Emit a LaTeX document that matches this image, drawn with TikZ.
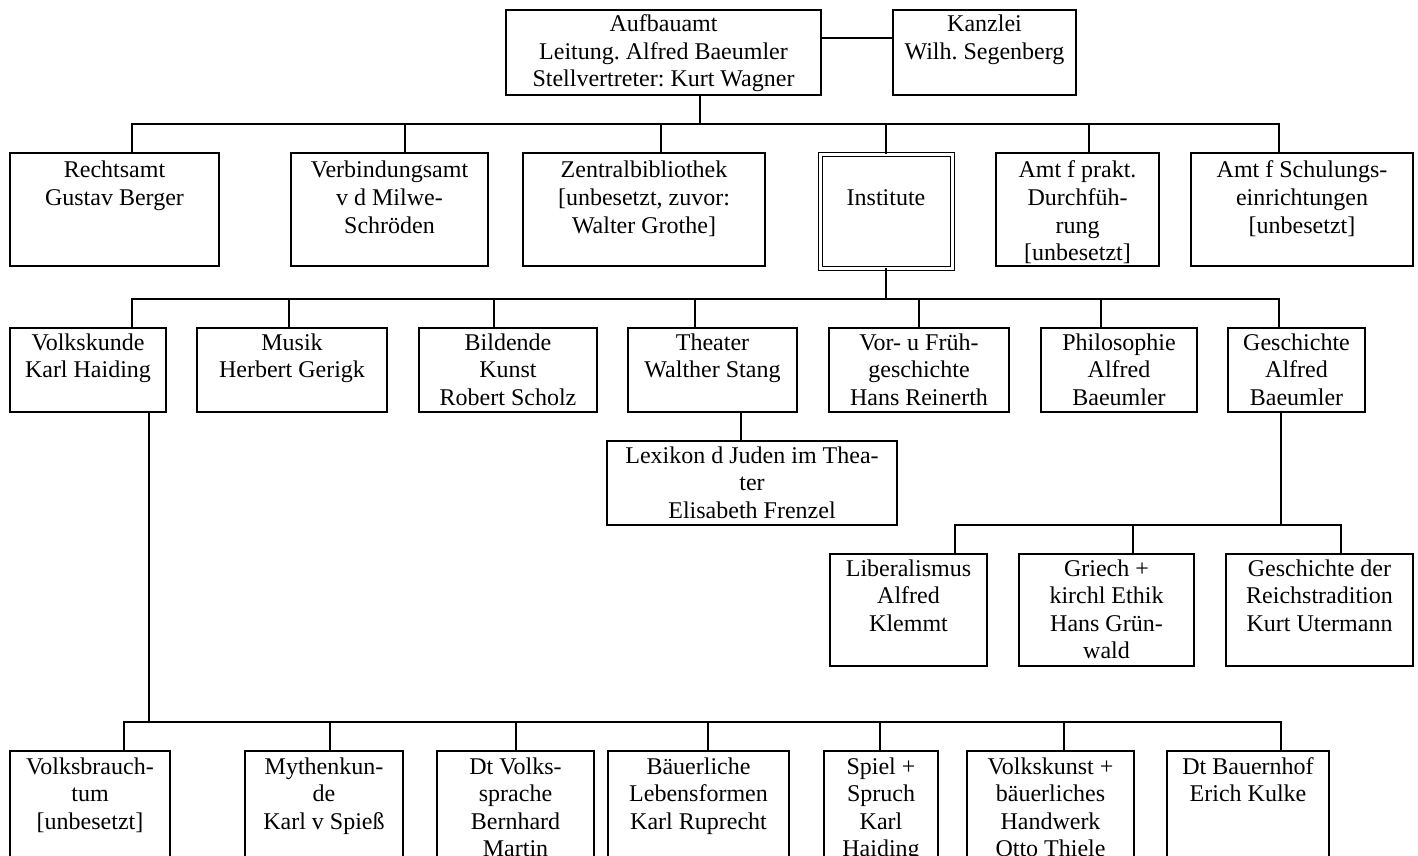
\documentclass[tikz,border=0pt]{standalone}
\usepackage{fontspec}
\setmainfont{Liberation Serif}
\frenchspacing
\newlength\pxu
\setlength\pxu{0.5pt}
\tikzset{
  box/.style={draw, line width=0.7pt, inner sep=0pt, outer sep=0pt, anchor=north west,
    font=\fontsize{12}{13.75}\selectfont},
  dbox/.style={box, line width=0.5pt, double, double distance=1.5pt},
  conn/.style={line width=0.7pt}
}
% [style]{name}{x}{y}{w}{h}{first-baseline offset}{text}
\newcommand\bx[8][box]{%
  \node[#1] (#2) at (#3,#4) {\begin{minipage}[t][#6\pxu][t]{#5\pxu}\centering\frenchspacing
    \vspace*{\dimexpr#7\pxu-0.7\baselineskip\relax}\strut#8\end{minipage}};}
\begin{document}
\begin{tikzpicture}[x=0.5pt,y=-0.5pt]
\useasboundingbox (0,0) rectangle (1418,856);
\clip (0,0) rectangle (1418,856);
% top row
\bx{aufbau}{506}{10}{315}{85}{22}{Aufbauamt\\Leitung. Alfred Baeumler\\Stellvertreter: Kurt Wagner}
\bx{kanzlei}{893}{10}{183}{85}{22}{Kanzlei\\Wilh. Segenberg}
% second row
\bx{rechts}{10}{153}{209}{113}{25}{Rechtsamt\\Gustav Berger}
\bx{verb}{291}{153}{197}{113}{25}{Verbindungsamt\\v d Milwe-\\Schröden}
\bx{zentral}{523}{153}{242}{113}{25}{Zentralbibliothek\\{}[unbesetzt, zuvor:\\Walter Grothe]}
\bx[dbox]{inst}{820}{154}{132}{114}{52}{Institute}
\bx{prakt}{996}{153}{163}{113}{25}{Amt f prakt.\\Durchfüh-\\rung\\{}[unbesetzt]}
\bx{schul}{1191}{153}{222}{113}{25}{Amt f Schulungs-\\einrichtungen\\{}[unbesetzt]}
% third row
\bx{volks}{10}{328}{156}{84}{22}{Volkskunde\\Karl Haiding}
\bx{musik}{197}{328}{190}{84}{22}{Musik\\Herbert Gerigk}
\bx{bild}{419}{328}{178}{84}{22}{Bildende\\Kunst\\Robert Scholz}
\bx{theater}{628}{328}{169}{84}{22}{Theater\\Walther Stang}
\bx{vor}{829}{328}{180}{84}{22}{Vor- u Früh-\\geschichte\\Hans Reinerth}
\bx{philo}{1041}{328}{156}{84}{22}{Philosophie\\Alfred\\Baeumler}
\bx{gesch}{1228}{328}{137}{84}{22}{Geschichte\\Alfred\\Baeumler}
% Lexikon
\bx{lex}{607}{441}{290}{84}{22}{Lexikon d Juden im Thea-\\ter\\Elisabeth Frenzel}
% fourth row
\bx{lib}{830}{554}{157}{112}{22}{Liberalismus\\Alfred\\Klemmt}
\bx{griech}{1019}{554}{175}{112}{22}{Griech +\\kirchl Ethik\\Hans Grün-\\wald}
\bx{reich}{1226}{554}{187}{112}{22}{Geschichte der\\Reichstradition\\Kurt Utermann}
% bottom row
\bx{vb}{10}{751}{160}{150}{23}{Volksbrauch-\\tum\\{}[unbesetzt]}
\bx{myth}{245}{751}{158}{150}{23}{Mythenkun-\\de\\Karl v Spieß}
\bx{dtv}{437}{751}{157}{150}{23}{Dt Volks-\\sprache\\Bernhard\\Martin}
\bx{bauer}{608}{751}{181}{150}{23}{Bäuerliche\\Lebensformen\\Karl Ruprecht}
\bx{spiel}{824}{751}{114}{150}{23}{Spiel +\\Spruch\\Karl\\Haiding}
\bx{vkunst}{967}{751}{167}{150}{23}{Volkskunst +\\bäuerliches\\Handwerk\\Otto Thiele}
\bx{hof}{1167}{751}{162}{150}{23}{Dt Bauernhof\\Erich Kulke}
% connectors
\draw[conn] (aufbau.east |- 0,38) -- (kanzlei.west |- 0,38);
\draw[conn] (700,124 |- aufbau.south) -- (700,124);
\draw[conn] (132,124 |- rechts.north) -- (132,124) -- (1279,124) -- (1279,124 |- schul.north);
\foreach \x/\n in {405/verb,661/zentral,886/inst,1089/prakt}
  \draw[conn] (\x,124) -- (\x,124 |- \n.north);
\draw[conn] (886,299 |- inst.south) -- (886,299);
\draw[conn] (132,299 |- volks.north) -- (132,299) -- (1279,299) -- (1279,299 |- gesch.north);
\foreach \x/\n in {289/musik,494/bild,695/theater,919/vor,1101/philo}
  \draw[conn] (\x,299) -- (\x,299 |- \n.north);
\draw[conn] (741,412 |- theater.south) -- (741,412 |- lex.north);
\draw[conn] (1281,525 |- gesch.south) -- (1281,525);
\draw[conn] (955,525 |- lib.north) -- (955,525) -- (1341,525) -- (1341,525 |- reich.north);
\draw[conn] (1133,525) -- (1133,525 |- griech.north);
\draw[conn] (149,722 |- volks.south) -- (149,722);
\draw[conn] (124,722 |- vb.north) -- (124,722) -- (1281,722) -- (1281,722 |- hof.north);
\foreach \x/\n in {330/myth,516/dtv,708/bauer,880/spiel,1064/vkunst}
  \draw[conn] (\x,722) -- (\x,722 |- \n.north);
\end{tikzpicture}
\end{document}
